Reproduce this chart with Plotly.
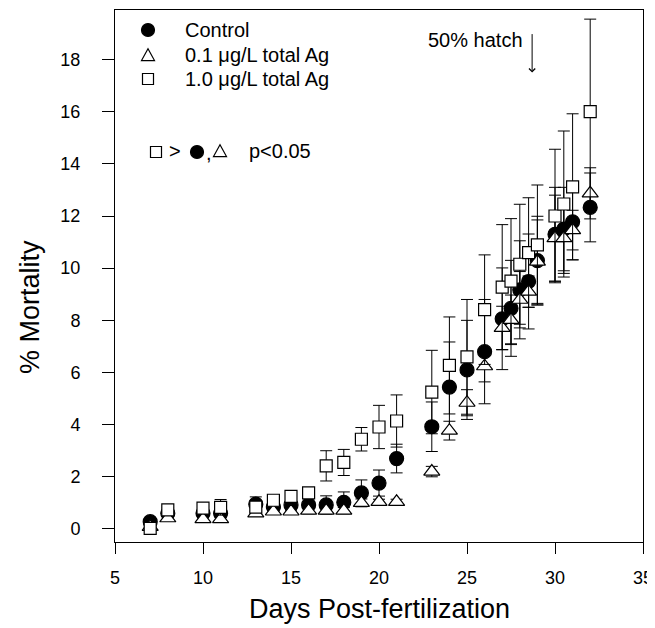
import plotly.graph_objects as go

days = [7, 8, 10, 11, 13, 14, 15, 16, 17, 18, 19, 20, 21, 23, 24, 25, 26,
        27, 27.5, 28, 28.5, 29, 30, 30.5, 31, 32]

control = [0.28, 0.6, 0.6, 0.6, 0.95, 0.85, 0.92, 0.92, 0.92, 1.02, 1.38,
           1.76, 2.7, 3.92, 5.44, 6.1, 6.8, 8.06, 8.46, 9.17, 9.49, 10.29,
           11.3, 11.5, 11.78, 12.33]
control_se = [0.1, 0.12, 0.15, 0.15, 0.28, 0.2, 0.2, 0.25, 0.35, 0.4, 0.5,
              0.5, 0.55, 0.95, 1.73, 1.9, 2.0, 1.95, 1.84, 1.88, 1.82, 1.7,
              1.8, 1.6, 1.46, 1.32]

low_ag = [0.08, 0.41, 0.38, 0.38, 0.6, 0.67, 0.67, 0.7, 0.7, 0.7, 1.0, 1.04,
          1.04, 2.2, 3.77, 4.84, 6.24, 7.71, 8.02, 8.79, 9.1, 10.25, 11.15,
          11.15, 11.46, 12.87]
low_ag_se = [0.05, 0.08, 0.08, 0.08, 0.1, 0.1, 0.1, 0.12, 0.12, 0.12, 0.15,
             0.1, 0.1, 0.2, 0.36, 0.5, 0.6, 0.83, 0.95, 1.08, 0.6, 1.6, 1.65,
             1.35, 0.76, 0.98]

high_ag = [0.02, 0.73, 0.8, 0.83, 0.84, 1.1, 1.25, 1.38, 2.42, 2.55, 3.44,
           3.91, 4.14, 5.25, 6.27, 6.6, 8.41, 9.27, 9.5, 10.15, 10.6, 10.89,
           12.0, 12.46, 13.12, 16.0]
high_ag_se = [0.05, 0.1, 0.15, 0.3, 0.2, 0.15, 0.2, 0.2, 0.58, 0.5, 0.45,
              0.83, 1.0, 1.6, 1.86, 2.2, 2.1, 2.4, 2.4, 2.3, 2.1, 2.3, 2.56,
              2.8, 2.8, 3.55]

labels = ["Control", "0.1 \u03bcg/L total Ag", "1.0 \u03bcg/L total Ag"]
symbols = ["circle", "triangle-up", "square"]

series = [
    (labels[0], control, control_se, symbols[0], "black", 14),
    (labels[1], low_ag, low_ag_se, symbols[1], "white", 14),
    (labels[2], high_ag, high_ag_se, symbols[2], "white", 12),
]

FONT = "Liberation Sans, Arial, sans-serif"
BLACK = "black"

# plot area in pixels (page coords): x 115..643, y 10..542
PX_L, PX_R, PX_T, PX_B = 115, 643, 10, 542


def px(x, y):
    """page pixel -> paper coords"""
    return ((x - PX_L) / (PX_R - PX_L), (PX_B - y) / (PX_B - PX_T))


def sym_shape(kind, cx, cy, s, fill):
    h = s / 2
    line = dict(color=BLACK, width=1.2)
    if kind == "circle":
        x0, y0 = px(cx - h, cy + h)
        x1, y1 = px(cx + h, cy - h)
        return dict(type="circle", xref="paper", yref="paper", x0=x0, y0=y0,
                    x1=x1, y1=y1, fillcolor=fill, line=line)
    if kind == "square":
        x0, y0 = px(cx - h, cy + h)
        x1, y1 = px(cx + h, cy - h)
        return dict(type="rect", xref="paper", yref="paper", x0=x0, y0=y0,
                    x1=x1, y1=y1, fillcolor=fill, line=line)
    pts = [px(cx - h, cy + h * 0.85), px(cx + h, cy + h * 0.85),
           px(cx, cy - h * 0.95)]
    path = "M {} {} L {} {} L {} {} Z".format(*[v for p in pts for v in p])
    return dict(type="path", xref="paper", yref="paper", path=path,
                fillcolor=fill, line=line)


def add_text(fig, x, y, text, size=20, anchor="left"):
    xp, yp = px(x, y)
    fig.add_annotation(x=xp, y=yp, xref="paper", yref="paper", text=text,
                       showarrow=False, xanchor=anchor, yanchor="middle",
                       font=dict(size=size, color=BLACK, family=FONT))


fig = go.Figure()
for name, vals, se, sym, fill, size in series:
    fig.add_trace(go.Scatter(
        x=days, y=vals, name=name, mode="markers", showlegend=False,
        marker=dict(symbol=sym, size=size, color=fill,
                    line=dict(color=BLACK, width=1.2)),
        error_y=dict(type="data", array=se, visible=True, color=BLACK,
                     thickness=1, width=6),
    ))

axis_common = dict(showline=True, linecolor=BLACK, linewidth=1,
                   mirror=True, ticks="outside", tickcolor=BLACK,
                   showgrid=False, zeroline=False, automargin=False,
                   tickfont=dict(size=18, color=BLACK, family=FONT))

fig.update_xaxes(range=[5, 35], tickvals=[5, 10, 15, 20, 25, 30, 35],
                 ticklen=11, ticklabelstandoff=8, **axis_common)
fig.update_yaxes(range=[-0.5, 19.9], tickvals=list(range(0, 20, 2)),
                 ticklen=12, ticklabelstandoff=18, **axis_common)

# axis titles
add_text(fig, 379, 609, "Days Post-fertilization", size=27, anchor="center")
xp, yp = px(30, 307)
fig.add_annotation(x=xp, y=yp, xref="paper", yref="paper",
                   text="% Mortality", showarrow=False, textangle=-90,
                   xanchor="center", yanchor="middle",
                   font=dict(size=27, color=BLACK, family=FONT))

# hand-drawn legend
shapes = []
legend_rows = [(30, "circle", "black"), (55, "triangle", "white"),
               (79, "square", "white")]
for (ly, kind, fill), lab in zip(legend_rows, labels):
    size = 11 if kind == "square" else 13
    shapes.append(sym_shape(kind, 148, ly, size, fill))
    add_text(fig, 183, ly, lab)

# significance note
shapes.append(sym_shape("square", 156, 152, 11, "white"))
add_text(fig, 167, 151, ">")
shapes.append(sym_shape("circle", 197, 152, 13, "black"))
add_text(fig, 204, 153, ",")
shapes.append(sym_shape("triangle", 220, 151, 13, "white"))
add_text(fig, 247, 151, "p<0.05")

# hatch marker
add_text(fig, 475, 40, "50% hatch", anchor="center")
fig.add_annotation(x=28.7, y=17.5, ax=0, ay=-40, text="", showarrow=True,
                   arrowhead=4, arrowsize=1.2, arrowwidth=1,
                   arrowcolor=BLACK)

# page body has an 8px margin, so offset plot margins to land on PX_*
fig.update_layout(
    width=655, height=628,
    margin=dict(l=PX_L - 8, r=655 - (PX_R - 8), t=PX_T - 8,
                b=628 - (PX_B - 8)),
    paper_bgcolor="white", plot_bgcolor="white",
    font=dict(family=FONT, color=BLACK),
    shapes=shapes,
    showlegend=False,
)

fig.write_html("out.html")
